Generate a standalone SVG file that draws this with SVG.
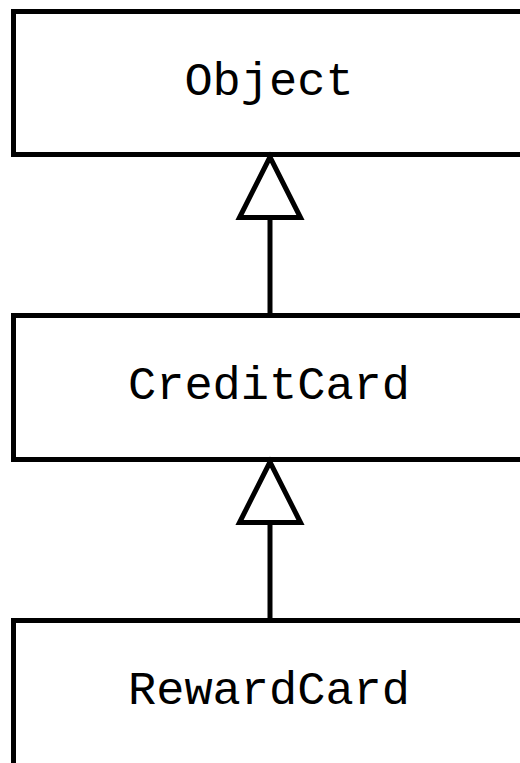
<svg xmlns="http://www.w3.org/2000/svg" width="520" height="763" viewBox="0 0 520 763">
  <style>
    .box { fill: #ffffff; stroke: #000000; stroke-width: 5; }
    .label { font-family: "Liberation Mono", "Courier New", monospace; font-size: 47px; fill: #000000; text-anchor: middle; }
    .edge { fill: none; stroke: #000000; stroke-width: 5; }
    .head { fill: #ffffff; stroke: #000000; stroke-width: 5; stroke-linejoin: miter; }
  </style>
  <rect width="520" height="763" fill="#ffffff"/>

  <g id="node-object">
    <rect class="box" x="13.5" y="11.5" width="530" height="143"/>
    <text class="label" x="269" y="95">Object</text>
  </g>

  <g id="node-creditcard">
    <rect class="box" x="13.5" y="315.5" width="530" height="144"/>
    <text class="label" x="269" y="399">CreditCard</text>
  </g>

  <g id="node-rewardcard">
    <rect class="box" x="13.5" y="620.5" width="530" height="160"/>
    <text class="label" x="269" y="704">RewardCard</text>
  </g>

  <g id="connectors">
    <!-- CreditCard inherits from Object -->
    <line class="edge" x1="270" y1="218" x2="270" y2="315.5"/>
    <polygon class="head" points="270,157 239.5,217.5 300.5,217.5"/>
    <!-- RewardCard inherits from CreditCard -->
    <line class="edge" x1="270" y1="523" x2="270" y2="620.5"/>
    <polygon class="head" points="270,462 239.5,522.5 300.5,522.5"/>
  </g>
</svg>
